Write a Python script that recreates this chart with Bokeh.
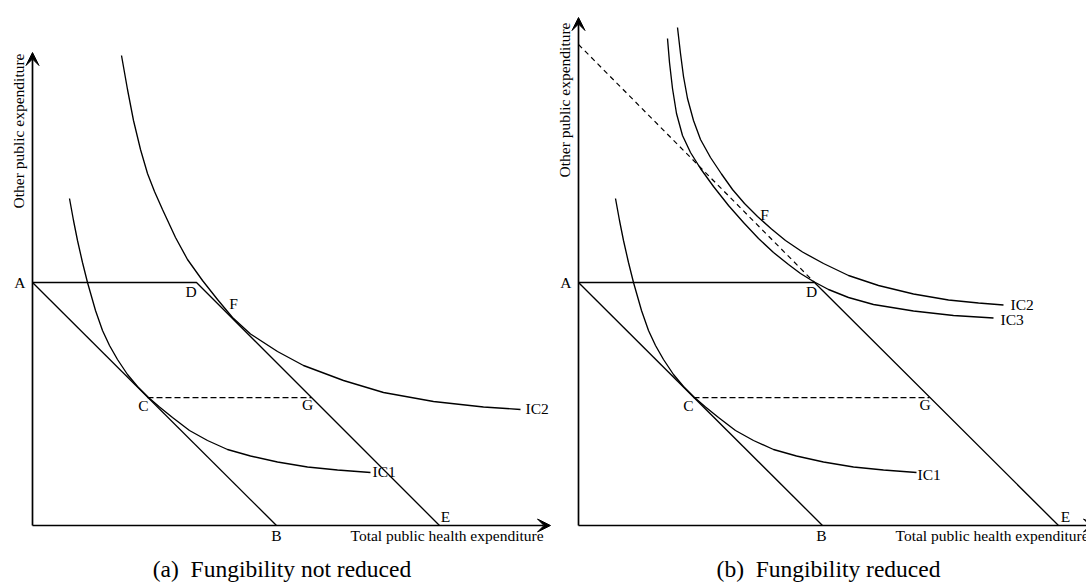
from math import pi
from bokeh.plotting import figure
from bokeh.layouts import row
from bokeh.models import Arrow, VeeHead, Range1d
from bokeh.core.properties import value
from bokeh.embed import file_html
from bokeh.resources import INLINE

# ---------------- data (units measured from each panel's origin) ----------------
budget_A = 243            # A: level of other public expenditure
budget_B = 244            # B: x-intercept of original budget line
D_a, E_a = 164, 407       # panel (a): kink D and intercept E
D_b, E_b = 236, 480       # panel (b): kink D and intercept E
C_x, C_y = 115, 128       # tangency C
G_a_x, G_b_x = 279, 351   # G on the new budget line
dashed_top_b = 481        # extension of DE to the vertical axis, panel (b)
y_tip_a, y_tip_b = 473, 508
x_tip = 518

ic1_x = [37, 41, 45, 50, 55, 63, 70, 77, 85, 95, 105, 116, 127, 140, 157, 175, 195, 218, 245, 275, 305, 338]
ic1_y = [327, 305, 285, 263, 243, 215, 195, 180, 166, 151, 139, 128, 118.5, 108, 95, 85, 76, 69.5, 63.5, 58.5, 55.5, 53]

ic2a_x = [89, 95, 101, 108, 115, 122, 130, 143, 155, 170, 185, 200, 218, 245, 271, 311, 351, 401, 451, 488]
ic2a_y = [470, 436, 405, 376, 352, 334, 316, 288, 266, 245, 226, 208, 191.5, 174, 160, 145, 133, 124, 118.5, 116]

ic2b_x = [99, 102, 105, 109, 115, 122, 132, 143, 154, 166, 179, 193, 207, 224, 245, 270, 300, 335, 370, 400, 425]
ic2b_y = [498, 472, 449, 427, 405, 386, 368, 351.5, 336, 322, 309, 296.5, 285, 273.5, 262, 250, 240, 231.5, 225.5, 222.5, 220.5]

ic3b_x = [89, 91, 94, 98, 104, 112, 122, 135, 150, 165, 180, 195, 210, 222, 235, 250, 270, 295, 335, 375, 415]
ic3b_y = [487, 463, 437, 412, 390, 373, 357, 339, 320, 303, 287, 273, 261, 252, 244, 236, 228, 221, 214.5, 210, 207.5]

# ---------------- styling ----------------
FONT = "Liberation Serif"
FS = "15.5px"
CAP_FS = "23.5px"
H = 585
Y_TOP = 525
DY = 6.5      # compensates the renderer's baseline offset for 15.5px text
DY_CAP = 9.0  # same for caption text


def base(width, x0):
    p = figure(width=width, height=H, x_range=Range1d(x0, x0 + width),
               y_range=Range1d(Y_TOP - H, Y_TOP), output_backend="svg",
               toolbar_location=None, min_border=0, title=None)
    p.axis.visible = False
    p.grid.visible = False
    p.outline_line_color = None
    p.background_fill_color = "white"
    p.border_fill_color = "white"
    return p


def arrow(p, x1, y1):
    p.add_layout(Arrow(end=VeeHead(size=13, fill_color="black", line_color="black", line_width=1),
                       x_start=0, y_start=0, x_end=x1, y_end=y1,
                       line_color="black", line_width=1.7))


def txt(p, x, y, t, align="center", size=FS, angle=0.0):
    p.text(x=[x], y=[y], text=[t], text_font=value(FONT), text_font_size=size,
           text_align=align, text_baseline="alphabetic", text_color="black", angle=angle)


def lbl(p, x, y, t, align="center"):
    txt(p, x, y + DY, t, align=align)


def ylabel(p, top):
    txt(p, -8 - DY, top, "Other public expenditure", align="right", angle=pi / 2)


LW = 1.35

# ---------------- panel (a) ----------------
pa = base(553, -32)
arrow(pa, 0, y_tip_a)
arrow(pa, x_tip, 0)
pa.line([0, budget_B], [budget_A, 0], line_color="black", line_width=LW)
pa.line([0, D_a, E_a], [budget_A, budget_A, 0], line_color="black", line_width=LW)
pa.line([C_x, G_a_x], [C_y, C_y], line_color="black", line_width=1.25, line_dash="6 3")
pa.line(ic1_x, ic1_y, line_color="black", line_width=LW)
pa.line(ic2a_x, ic2a_y, line_color="black", line_width=LW)

lbl(pa, -7, 237, "A", align="right")
lbl(pa, 244, -16.5, "B")
lbl(pa, 111, 114, "C")
lbl(pa, 158.5, 228, "D")
lbl(pa, 413, 3, "E")
lbl(pa, 201, 216, "F")
lbl(pa, 275, 115, "G")
lbl(pa, 340, 48, "IC1", align="left")
lbl(pa, 493, 111, "IC2", align="left")
lbl(pa, 318, -16.5, "Total public health expenditure", align="left")
ylabel(pa, 472)
txt(pa, 249.5, -52 + DY_CAP, "(a)\u2002Fungibility not reduced", size=CAP_FS)

# ---------------- panel (b) ----------------
pb = base(533, -25)
arrow(pb, 0, y_tip_b)
arrow(pb, x_tip, 0)
pb.line([0, budget_B], [budget_A, 0], line_color="black", line_width=LW)
pb.line([0, D_b, E_b], [budget_A, budget_A, 0], line_color="black", line_width=LW)
pb.line([0, D_b], [dashed_top_b, budget_A], line_color="black", line_width=1.2, line_dash="5 4")
pb.line([C_x, G_b_x], [C_y, C_y], line_color="black", line_width=1.25, line_dash="6 3")
pb.line(ic1_x, ic1_y, line_color="black", line_width=LW)
pb.line(ic2b_x, ic2b_y, line_color="black", line_width=LW)
pb.line(ic3b_x, ic3b_y, line_color="black", line_width=LW)

lbl(pb, -7, 237, "A", align="right")
lbl(pb, 243, -16.5, "B")
lbl(pb, 110, 114, "C")
lbl(pb, 233, 228, "D")
lbl(pb, 487, 3, "E")
lbl(pb, 186, 305, "F")
lbl(pb, 346.5, 115, "G")
lbl(pb, 339, 45, "IC1", align="left")
lbl(pb, 432, 215, "IC2", align="left")
lbl(pb, 422, 200, "IC3", align="left")
lbl(pb, 317, -16.5, "Total public health expenditure", align="left")
ylabel(pb, 503)
txt(pb, 250, -52 + DY_CAP, "(b)\u2002Fungibility reduced", size=CAP_FS)

layout = row(pa, pb, spacing=0)
open("out.html", "w").write(file_html(layout, INLINE, "Fungibility"))
